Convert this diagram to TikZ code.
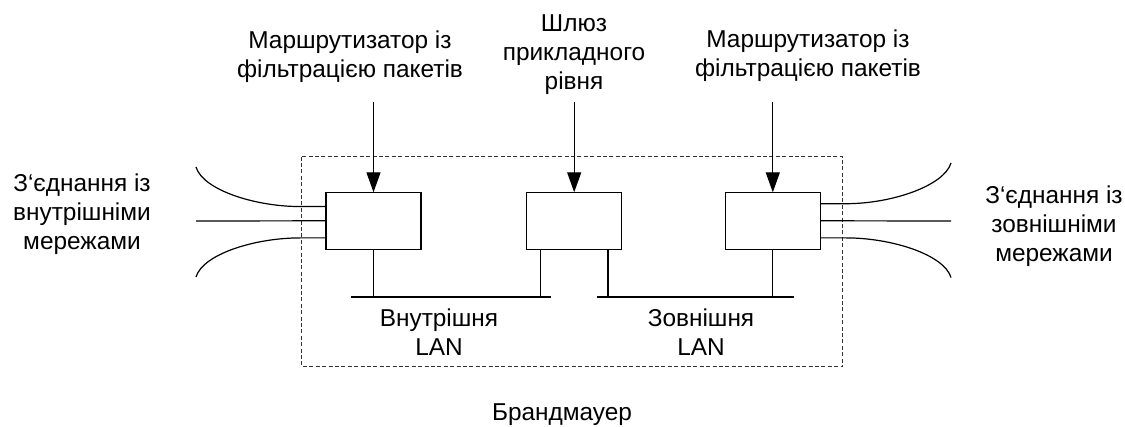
\documentclass[tikz,border=0pt]{standalone}
\usepackage{fontspec}
\setmainfont{Liberation Sans}
\usetikzlibrary{arrows.meta,calc}
\begin{document}
\begin{tikzpicture}[x=0.5pt,y=-0.5pt,
  line width=0.6pt,
  every node/.style={inner sep=0pt,outer sep=0pt},
  unit/.style={draw,minimum width=47.5pt,minimum height=28.5pt},
  lbl/.style={anchor=north,align=center,font=\fontsize{12.2pt}{14.5pt}\selectfont},
  feed/.style={-{Triangle[length=10pt,width=7pt]}},
  wire/.style={line width=0.6pt},
  border/.style={draw=black!80,line width=0.6pt,dash pattern=on 2pt off 1.2pt}]
\useasboundingbox (0,0) rectangle (1125,427);

% firewall boundary
\draw[border] (301.7,156.7) rectangle (842.7,366.7);

% devices
\node[unit] (rl) at (373.5,220.8) {};
\node[unit] (gw) at (574.2,220.8) {};
\node[unit] (rr) at (772.8,220.8) {};

% labels
\node[lbl] (trl) at (350,31) {Маршрутизатор із\\фільтрацією пакетів};
\node[lbl] (tgw) at (574,15) {Шлюз\\прикладного\\рівня};
\node[lbl] (trr) at (808,29.5) {Маршрутизатор із\\фільтрацією пакетів};
\node[lbl] (tin) at (82,173.5) {З‘єднання із\\внутрішніми\\мережами};
\node[lbl] (tout) at (1054,185.5) {З‘єднання із\\зовнішніми\\мережами};
\node[lbl] (tlan1) at (439,309) {Внутрішня\\LAN};
\node[lbl] (tlan2) at (701,309) {Зовнішня\\LAN};
\node[lbl] (tfw) at (562,404) {Брандмауер};

% feed arrows
\coordinate (arl) at (373.5,102.5);
\coordinate (agw) at (574.2,102.5);
\coordinate (arr) at (772.8,102.5);
\draw[feed] (arl) -- (rl.north);
\draw[feed] (agw) -- (gw.north);
\draw[feed] (arr) -- (rr.north);

% LAN segments
\coordinate (lanAL) at (351,297);
\coordinate (lanAR) at (551,297);
\coordinate (lanBL) at (597,297);
\coordinate (lanBR) at (794,297);
\draw[wire] (lanAL) -- (lanAR);
\draw[wire] (lanBL) -- (lanBR);
\draw[wire] (rl.south) -- (rl.south |- lanAL);
\draw[wire] ($(gw.south west)+(13.8,0)$) coordinate (gwa) -- (gwa |- lanAL);
\draw[wire] ($(gw.south east)+(-13.8,0)$) coordinate (gwb) -- (gwb |- lanBL);
\draw[wire] (rr.south) -- (rr.south |- lanBL);

% internal network links
\coordinate (inT) at (196,167);
\coordinate (inM) at (196,221);
\coordinate (inB) at (196,277);
\draw[wire] ($(rl.north west)!0.25!(rl.south west)$) -- ++(-26,0)
  .. controls +(-45,0) and +(7,23) .. (inT);
\draw[wire] (rl.west) -- (inM);
\draw[wire] ($(rl.north west)!0.8!(rl.south west)$) -- ++(-26,0)
  .. controls +(-45,0) and +(7,-23) .. (inB);

% external network links
\coordinate (outT) at (951,163);
\coordinate (outM) at (951,221);
\coordinate (outB) at (951,277.5);
\draw[wire] ($(rr.north east)!0.2!(rr.south east)$) -- ++(26,0)
  .. controls +(45,0) and +(-7,23) .. (outT);
\draw[wire] (rr.east) -- (outM);
\draw[wire] ($(rr.north east)!0.8!(rr.south east)$) -- ++(26,0)
  .. controls +(45,0) and +(-7,-23) .. (outB);
\end{tikzpicture}
\end{document}
